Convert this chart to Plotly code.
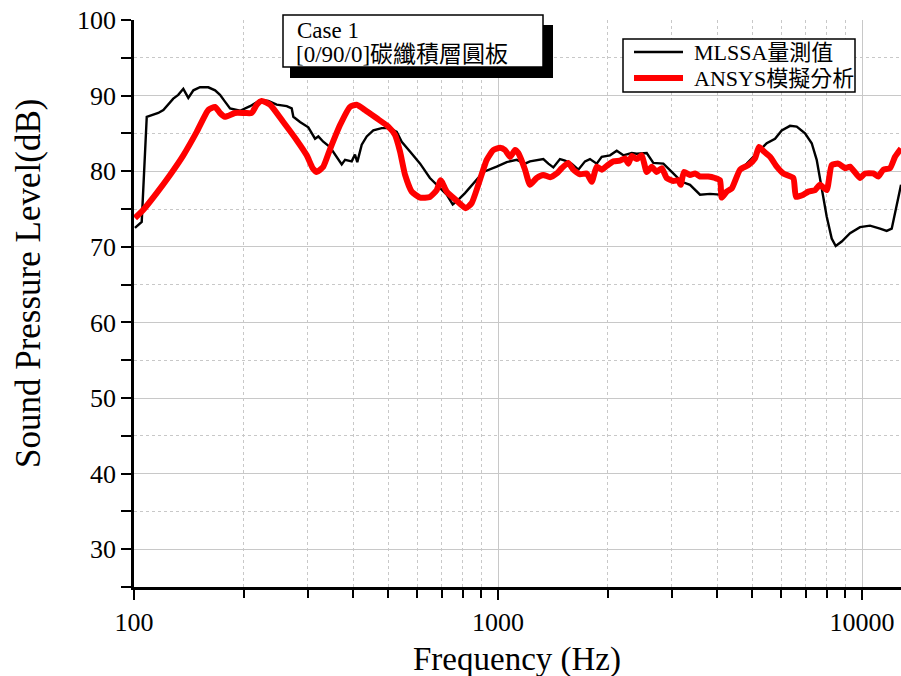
import plotly.graph_objects as go

# ---------------- data ----------------
mlssa_freq = [100.6, 105.0, 108.4, 111.8, 116.6, 120.4, 124.2, 128.2, 132.3, 136.6, 141.0, 145.6,
              151.8, 160.0, 167.0, 172.3, 177.8, 183.6, 195.6, 208.4, 222.0, 233.9, 246.6, 262.8,
              271.2, 274.0, 285.8, 301.2, 314.3, 320.9, 331.1, 345.5, 372.1, 380.0, 396.3, 404.6,
              410.6, 422.3, 435.9, 454.4, 479.1, 505, 527.0, 543.8, 573, 611, 650, 693, 722.8,
              751.0, 770.0, 811.6, 855.3, 911.5, 991.7, 1056.6, 1126, 1186.6, 1224, 1332, 1375,
              1419, 1480, 1528, 1594, 1662, 1734, 1789, 1867, 1927, 2031, 2119, 2210, 2330, 2405,
              2562, 2671, 2846, 3001, 3197, 3369, 3589, 3823, 4073, 4339, 4622, 4823, 5136, 5473,
              5768, 6017, 6343, 6617, 6973, 7275, 7508, 7750, 7998, 8255, 8467, 8795, 9271, 9874,
              10520, 11207, 11690, 12067, 12455, 12800]
mlssa_db = [72.5, 73.3, 87.2, 87.4, 87.7, 88.1, 88.8, 89.6, 90.1, 90.9, 89.7, 90.7,
            91.1, 91.1, 90.7, 90.1, 89.2, 88.3, 88.0, 88.6, 89.4, 89.3, 88.8, 88.6,
            88.3, 87.2, 86.5, 85.8, 84.3, 84.6, 83.9, 83.2, 80.9, 81.5, 81.3, 82.2,
            81.2, 83.5, 84.6, 85.4, 85.7, 85.7, 85.2, 83.9, 82.6, 81.0, 79.1, 77.7, 76.9,
            75.6, 76.0, 77.1, 78.4, 79.9, 80.6, 81.2, 81.5, 81.0, 81.3, 81.6, 81.0,
            80.5, 81.6, 81.4, 81.0, 80.2, 81.3, 81.6, 81.0, 81.9, 82.1, 82.7, 82.1, 82.4, 82.3,
            82.4, 81.1, 81.0, 79.9, 78.6, 78.2, 76.9, 77.0, 76.9, 77.5, 80.2, 81.0, 82.4, 83.7,
            84.3, 85.4, 86.0, 85.9, 85.0, 83.7, 81.5, 78.0, 74.0, 71.1, 70.1, 70.7, 71.8, 72.6,
            72.8, 72.4, 72.1, 72.4, 75.3, 78.2]

ansys_freq = [100.6, 106.1, 115.4, 125.6, 136.6, 148.7, 160.0, 167.0, 172.3, 177.8, 189.4, 201.8,
              210.5, 217.4, 224.3, 236.4, 257.1, 279.9, 298.2, 309.7, 317.6, 331.1, 345.5, 368.1,
              392, 409.0, 431.1, 464.4, 499.5, 521.2, 538, 555.5, 579.3, 611, 650, 678.6, 696.1,
              722.8, 770.0, 815.3, 846.8, 882.8, 931.1, 970.7, 1013, 1045, 1079, 1114, 1137,
              1186.6, 1224, 1277, 1332, 1390, 1450, 1496, 1560, 1610, 1680, 1752, 1809, 1867,
              1927, 1989, 2075, 2164, 2233, 2280, 2330, 2405, 2482, 2562, 2644, 2729, 2817, 2907,
              3031, 3128, 3176, 3243, 3369, 3477, 3589, 3782, 3946, 4073, 4117, 4249, 4385, 4622,
              4871, 5081, 5212, 5380, 5589, 5832, 6080, 6476, 6587, 6899, 7121, 7430, 7668, 7998,
              8255, 8609, 8982, 9271, 9874, 10190, 10742, 11086, 11443, 11938, 12323, 12800]
ansys_db = [73.8, 74.9, 77.1, 79.5, 82.1, 85.2, 88.1, 88.5, 87.7, 87.2, 87.7, 87.7,
            87.7, 88.8, 89.3, 88.8, 86.5, 84.1, 82.1, 80.4, 79.9, 80.6, 82.9, 86.1,
            88.5, 88.8, 88.1, 87.0, 85.9, 84.8, 82.6, 79.5, 77.3, 76.5, 76.6, 77.5, 78.8,
            77.3, 76.1, 75.1, 75.8, 78.2, 81.5, 82.8, 83.1, 82.8, 81.9, 82.8, 82.4,
            80.2, 78.2, 79.1, 79.5, 79.2, 79.7, 80.4, 81.1, 80.2, 79.6, 79.7, 78.6, 80.6,
            80.2, 80.7, 81.3, 81.4, 81.7, 81.0, 82.0, 81.6, 82.1, 79.9, 80.6, 79.9, 80.4, 79.1,
            78.7, 78.8, 78.2, 79.9, 79.5, 79.7, 79.3, 79.3, 79.1, 78.8, 76.5, 77.3, 77.7, 80.2,
            80.8, 81.7, 83.2, 82.6, 81.9, 80.6, 79.7, 79.1, 76.6, 76.9, 77.3, 77.5, 78.2, 77.5,
            80.8, 81.0, 80.4, 80.6, 79.1, 79.7, 79.7, 79.3, 80.2, 80.4, 81.9, 83.0]

series_names = ["MLSSA量測值", "ANSYS模擬分析"]
case_lines = ["Case 1", "[0/90/0]碳纖積層圓板"]
x_title = "Frequency (Hz)"
y_title = "Sound Pressure Level(dB)"
x_tickvals = [100, 1000, 10000]
x_ticktext = ["100", "1000", "10000"]
x_minor_vals = [200, 300, 400, 500, 600, 700, 800, 900,
                2000, 3000, 4000, 5000, 6000, 7000, 8000, 9000]
y_tickvals = [30, 40, 50, 60, 70, 80, 90, 100]
series_colors = ["black", "#ff0000"]
series_widths = [2.4, 6]

FONT = "Liberation Serif, 'Noto Sans CJK TC', serif"

# ---------------- figure ----------------
fig = go.Figure()
fig.add_trace(go.Scatter(x=mlssa_freq, y=mlssa_db, mode="lines", name=series_names[0],
                         line=dict(color=series_colors[0], width=series_widths[0])))
fig.add_trace(go.Scatter(x=ansys_freq, y=ansys_db, mode="lines", name=series_names[1],
                         line=dict(color=series_colors[1], width=series_widths[1],
                                   shape="spline", smoothing=0.5)))

W, H = 901, 676
ML, MR, MT, MB = 134, 0, 20, 89
pw, ph = W - ML - MR, H - MT - MB


def px(xp):
    return (xp - ML) / pw


def py(yp):
    return (H - MB - yp) / ph


fig.update_layout(
    width=W, height=H, autosize=False,
    margin=dict(l=ML, r=MR, t=MT, b=MB, autoexpand=False),
    plot_bgcolor="white", paper_bgcolor="white",
    font=dict(family=FONT, color="black"),
    showlegend=False,
)

fig.update_xaxes(
    type="log", range=[2, 4.1071], automargin=False,
    showline=True, linecolor="black", linewidth=3,
    ticks="outside", ticklen=10, tickwidth=2, tickcolor="black",
    tickvals=x_tickvals, ticktext=x_ticktext,
    tickfont=dict(size=26, family=FONT),
    ticklabelstandoff=0,
    showgrid=True, gridcolor="#c8c8c8", gridwidth=1,
    minor=dict(ticks="outside", ticklen=8, tickwidth=2, tickcolor="black",
               tickvals=x_minor_vals,
               showgrid=True, gridcolor="#c8c8c8", griddash="dot", gridwidth=1),
    zeroline=False,
)

fig.update_yaxes(
    range=[25, 100], automargin=False,
    showline=True, linecolor="black", linewidth=2.5,
    ticks="outside", ticklen=10, tickwidth=2, tickcolor="black",
    tickvals=y_tickvals,
    tickfont=dict(size=26, family=FONT),
    showgrid=True, gridcolor="#c8c8c8", gridwidth=1,
    minor=dict(ticks="outside", ticklen=10, tickwidth=2, tickcolor="black", dtick=5,
               showgrid=True, gridcolor="#c8c8c8", griddash="dot", gridwidth=1),
    zeroline=False,
)

# axis titles as annotations
fig.add_annotation(text=y_title, xref="paper", yref="paper", x=px(28), y=py(284),
                   textangle=-90, showarrow=False, font=dict(size=35, family=FONT),
                   xanchor="center", yanchor="middle")
fig.add_annotation(text=x_title, xref="paper", yref="paper", x=px(517), y=py(659),
                   showarrow=False, font=dict(size=33, family=FONT),
                   xanchor="center", yanchor="middle")

# Case box with shadow
fig.add_shape(type="rect", xref="paper", yref="paper",
              x0=px(290), x1=px(553), y0=py(78), y1=py(25),
              fillcolor="black", line=dict(width=0))
fig.add_shape(type="rect", xref="paper", yref="paper",
              x0=px(283), x1=px(543), y0=py(67), y1=py(15),
              fillcolor="white", line=dict(color="black", width=1.5))
fig.add_annotation(text=case_lines[0], xref="paper", yref="paper", x=px(295), y=py(30),
                   showarrow=False, xanchor="left", yanchor="middle",
                   font=dict(size=23, family=FONT))
fig.add_annotation(text=case_lines[1], xref="paper", yref="paper", x=px(294), y=py(54),
                   showarrow=False, xanchor="left", yanchor="middle",
                   font=dict(size=23, family=FONT))

# Legend (drawn manually)
fig.add_shape(type="rect", xref="paper", yref="paper",
              x0=px(623), x1=px(855), y0=py(92), y1=py(39),
              fillcolor="white", line=dict(color="black", width=1.5))
legend_rows = [52, 78]
for i, name in enumerate(series_names):
    yy = py(legend_rows[i])
    fig.add_shape(type="line", xref="paper", yref="paper",
                  x0=px(634), x1=px(683), y0=yy, y1=yy,
                  line=dict(color=series_colors[i], width=series_widths[i]))
    fig.add_annotation(text=name, xref="paper", yref="paper", x=px(692), y=yy,
                       showarrow=False, xanchor="left", yanchor="middle",
                       font=dict(size=22, family=FONT))

fig.write_html("out.html")
